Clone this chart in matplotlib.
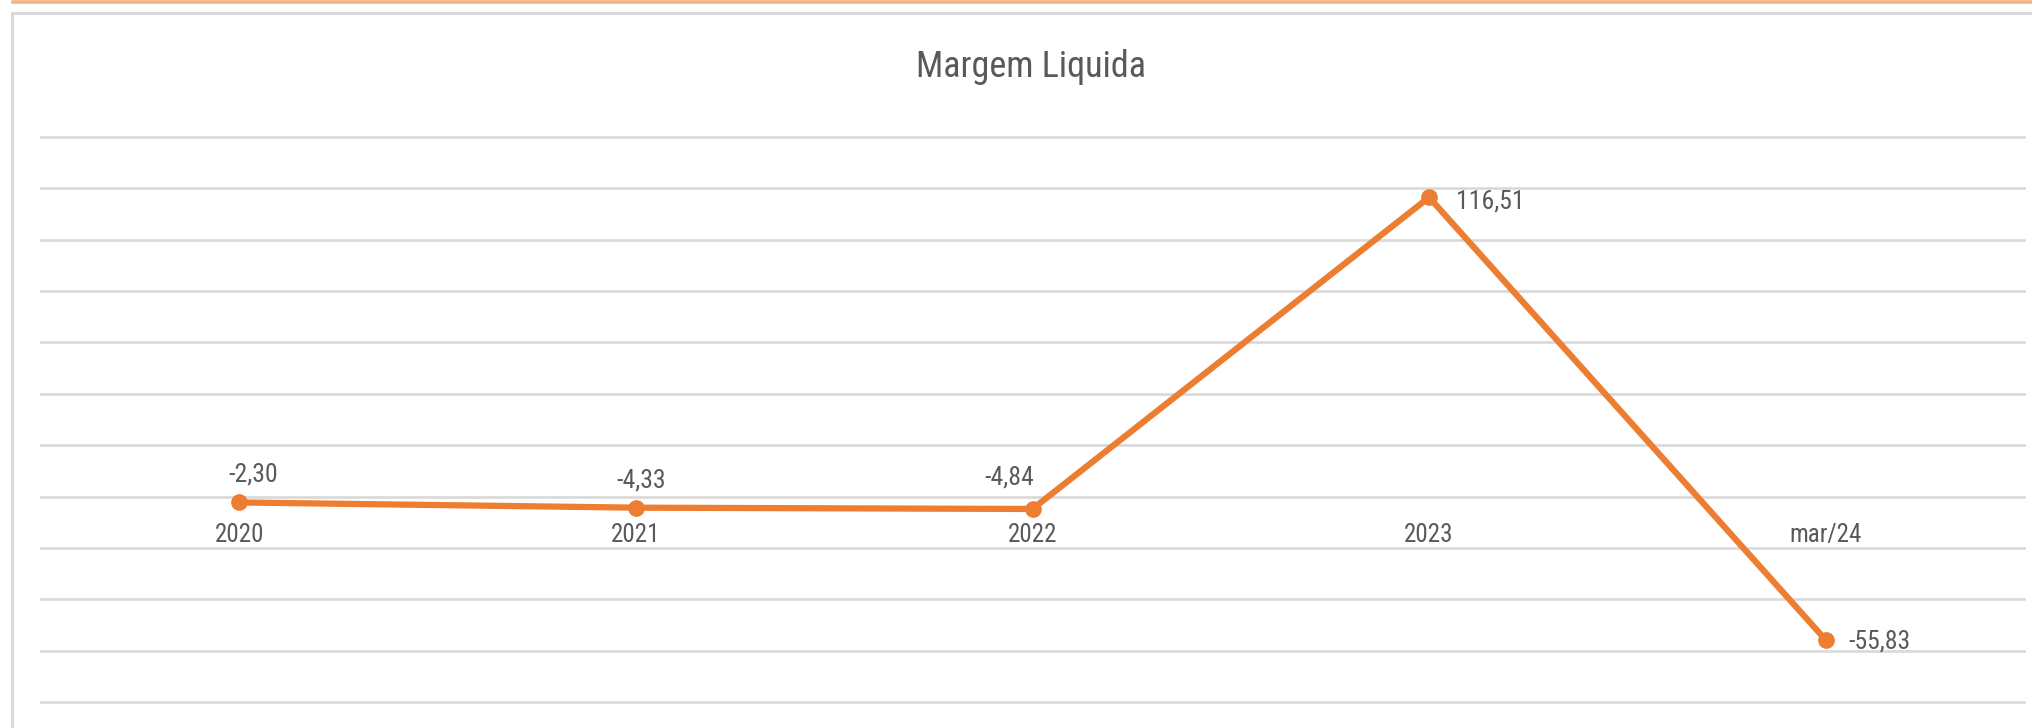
import matplotlib
matplotlib.use("Agg")
import matplotlib.pyplot as plt
from matplotlib.lines import Line2D
import numpy as np

# dados
categorias = ["2020", "2021", "2022", "2023", "mar/24"]
margem = [-2.30, -4.33, -4.84, 116.51, -55.83]
rotulos = ["-2,30", "-4,33", "-4,84", "116,51", "-55,83"]

# deslocamento dos rotulos (pontos) e alinhamento
offsets = [(10, 20), (4, 19.5), (-16.5, 23), (19.5, -3), (16, -1)]
aligns = ["center", "center", "center", "left", "left"]

W, H = 2033, 728
plt.rcParams["font.family"] = ["Roboto Condensed", "Liberation Sans Narrow", "Roboto", "DejaVu Sans"]
cinza_txt = "#595959"
cinza_grid = "#D9D9D9"
laranja = "#ED7D31"

fig = plt.figure(figsize=(W / 100, H / 100), dpi=100)
fig.patch.set_facecolor("white")

# moldura
fig.add_artist(Line2D([13 / W, 1], [1 - 1.5 / H, 1 - 1.5 / H], color="#F4B183", lw=2.6))
fig.add_artist(Line2D([12 / W, 1], [1 - 13 / H, 1 - 13 / H], color=cinza_grid, lw=2.2))
fig.add_artist(Line2D([12 / W, 12 / W], [0, 1 - 13 / H], color=cinza_grid, lw=2.2))

ax = fig.add_axes([41 / W, 1 - 702 / H, (2024 - 41) / W, (702 - 137) / H])
x = np.arange(len(categorias))
ax.plot(x, margem, color=laranja, lw=4.5, marker="o", ms=11, solid_capstyle="round", zorder=3)

ax.set_xlim(-0.5, len(categorias) - 0.5)
ax.set_ylim(-80, 140)
ax.set_yticks(np.arange(-80, 141, 20))
ax.yaxis.grid(True, color=cinza_grid, lw=1.9)
for g in ax.get_ygridlines():
    g.set_clip_on(False)
ax.set_axisbelow(True)
ax.tick_params(axis="y", left=False, labelleft=False)

ax.spines["bottom"].set_position(("data", 0))
for s in ax.spines.values():
    s.set_visible(False)
ax.set_xticks(x)
ax.set_xticklabels(categorias, color=cinza_txt, fontsize=18)
ax.tick_params(axis="x", length=0, pad=19)

for xi, yi, txt, off, ha in zip(x, margem, rotulos, offsets, aligns):
    ax.annotate(txt, (xi, yi), xytext=off, textcoords="offset points",
                ha=ha, va="center", fontsize=18.5, color=cinza_txt, zorder=4)

fig.text(1031 / W, 1 - 77 / H, "Margem Liquida", ha="center", va="baseline",
         fontsize=26, color=cinza_txt)

fig.savefig("out.png", dpi=100)
